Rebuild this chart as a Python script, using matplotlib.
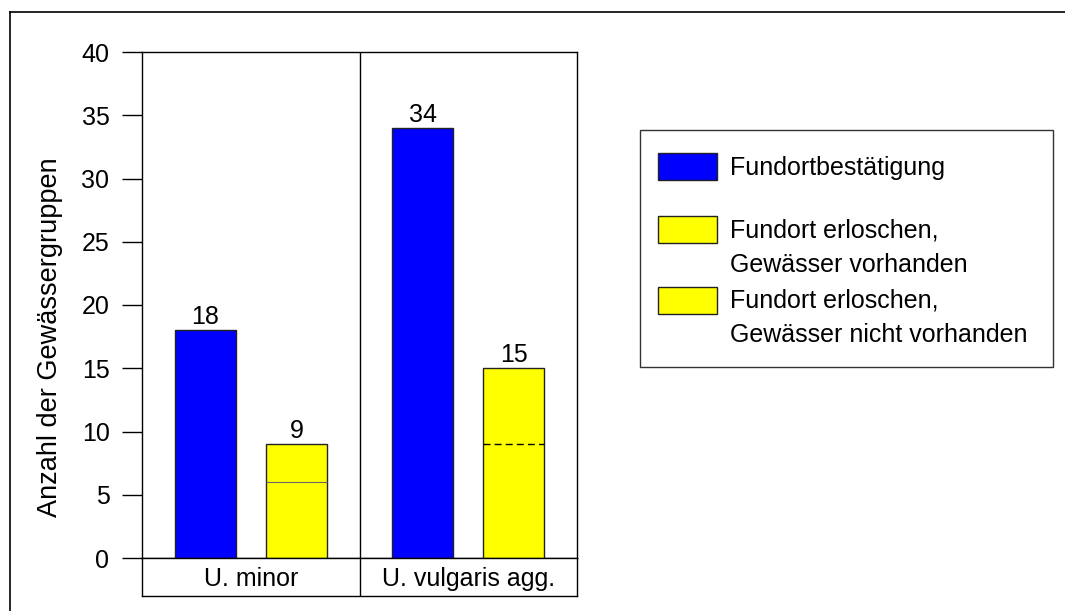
import matplotlib
matplotlib.use("Agg")
import matplotlib.pyplot as plt
from matplotlib.patches import Rectangle

plt.rcParams['font.family'] = ['Liberation Sans', 'DejaVu Sans']

categories = ["U. minor", "U. vulgaris agg."]
bestaetigung = [18, 34]
erloschen_vorhanden = [6, 9]
erloschen_nicht_vorhanden = [3, 6]
yticks = [0, 5, 10, 15, 20, 25, 30, 35, 40]
ylabel = "Anzahl der Gewässergruppen"
legend_labels = ["Fundortbestätigung",
                 "Fundort erloschen,\nGewässer vorhanden",
                 "Fundort erloschen,\nGewässer nicht vorhanden"]

BLUE = "#0000FF"
YELLOW = "#FFFF00"
EDGE = "#222222"
FS = 18

W, H = 1065, 611
fig = plt.figure(figsize=(W / 100, H / 100), dpi=100)

def px_axes(l, t, r, b):
    return fig.add_axes([l / W, 1 - b / H, (r - l) / W, (b - t) / H])

ax = px_axes(142, 52, 577, 558)
blue_x = [0.29, 1.29]
yel_x = [0.71, 1.71]
bw = 0.28
ax.bar(blue_x, bestaetigung, width=bw, color=BLUE, edgecolor=EDGE, linewidth=1.0, zorder=3)
ax.bar(yel_x, erloschen_vorhanden, width=bw, color=YELLOW, edgecolor=YELLOW, linewidth=0, zorder=3)
ax.bar(yel_x, erloschen_nicht_vorhanden, width=bw, bottom=erloschen_vorhanden,
       color=YELLOW, edgecolor=YELLOW, linewidth=0, zorder=3)
totals = [a + b for a, b in zip(erloschen_vorhanden, erloschen_nicht_vorhanden)]
ax.bar(yel_x, totals, width=bw, fill=False, edgecolor=EDGE, linewidth=1.0, zorder=4)
# divider lines inside yellow bars
ax.hlines(erloschen_vorhanden[0], yel_x[0] - bw / 2, yel_x[0] + bw / 2,
          colors="#666666", linewidth=0.8, zorder=4)
ax.hlines(erloschen_vorhanden[1], yel_x[1] - bw / 2, yel_x[1] + bw / 2,
          colors="black", linewidth=1.0, linestyles=(0, (5, 3)), zorder=4)

for x, v in zip(blue_x + yel_x, bestaetigung + totals):
    ax.annotate(str(v), (x, v), xytext=(0, 1), textcoords="offset points",
                ha="center", va="bottom", fontsize=FS)

ax.axvline(1, color="black", linewidth=1.0)
ax.set_xlim(0, 2)
ax.set_ylim(0, 40)
ax.set_yticks(yticks)
ax.set_yticklabels([str(t) for t in yticks], fontsize=FS)
ax.set_xticks([])
ax.tick_params(axis="y", direction="out", length=14.4, width=1.0, pad=9)
for s in ax.spines.values():
    s.set_linewidth(1.0)

cax = px_axes(142, 558, 577, 596)
cax.set_xlim(0, 2)
cax.set_ylim(0, 1)
cax.set_xticks([])
cax.set_yticks([])
cax.axvline(1, color="black", linewidth=1.0)
for s in cax.spines.values():
    s.set_linewidth(1.0)
for i, c in enumerate(categories):
    cax.text(i + 0.5, 0.45, c, ha="center", va="center", fontsize=FS)

# overlay in pixel coordinates for legend, y label and outer frame
ov = fig.add_axes([0, 0, 1, 1])
ov.set_xlim(0, W)
ov.set_ylim(H, 0)
ov.axis("off")
ov.patch.set_alpha(0)
ov.plot([10, W], [12, 12], color="black", linewidth=1.2)
ov.plot([10, 10], [12, H], color="black", linewidth=1.2)
ov.text(50, 337, ylabel, rotation=90, ha="center", va="center", fontsize=19.5)
ov.add_patch(Rectangle((640, 130), 413, 237, fill=False, edgecolor="#333333", linewidth=1.0))
patch_tops = [153, 216, 287]
patch_colors = [BLUE, YELLOW, YELLOW]
text_y = [168, 248, 318]
for top, col, lab, ty in zip(patch_tops, patch_colors, legend_labels, text_y):
    ov.add_patch(Rectangle((658, top), 59, 27, facecolor=col, edgecolor=EDGE, linewidth=1.0))
    ov.text(730, ty, lab, ha="left", va="center", fontsize=FS, linespacing=1.55)

fig.savefig("out.png", dpi=100)
